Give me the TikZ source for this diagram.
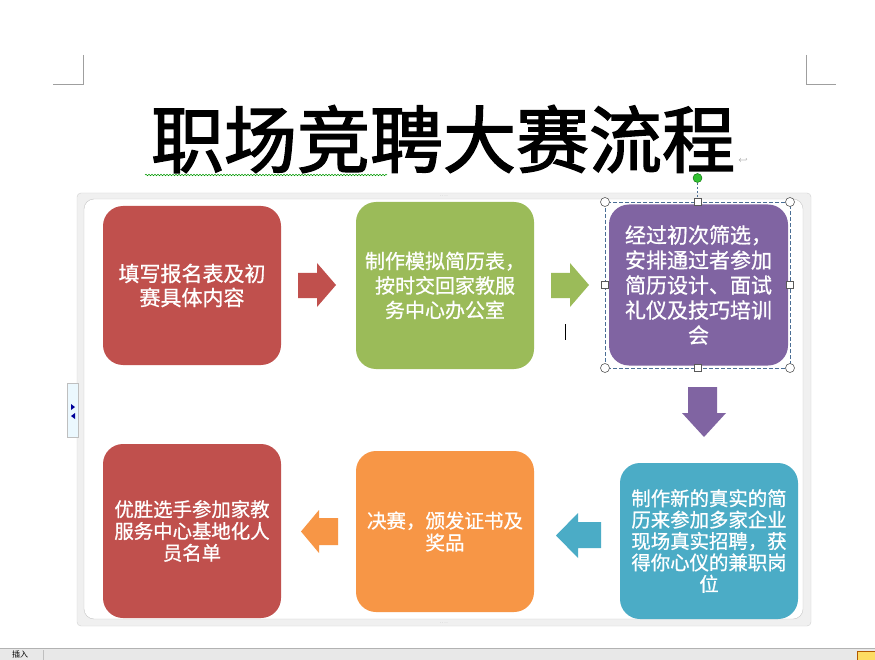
\documentclass[tikz,border=0pt]{standalone}
\usepackage{fontspec}
\newfontfamily\cjk[FakeBold=0.8]{Noto Sans CJK SC}
\newfontfamily\cjktitle[FakeBold=2]{Noto Sans CJK SC}
\newfontfamily\cjkplain{Noto Sans CJK SC}
\usetikzlibrary{decorations.pathmorphing}
\definecolor{cred}{HTML}{C0504D}
\definecolor{cgreen}{HTML}{9BBB59}
\definecolor{cpurple}{HTML}{8064A2}
\definecolor{cblue}{HTML}{4BACC6}
\definecolor{corange}{HTML}{F79646}
\definecolor{selblue}{HTML}{4A6E95}
\tikzset{
  stepbox/.style={rounded corners=20pt, inner sep=0pt, text=white, align=center},
  handle/.style={draw=gray!70!black, fill=white, line width=0.6pt},
  cropmark/.style={draw=gray!75, line width=1pt}
}
\begin{document}
\begin{tikzpicture}[x=1pt,y=-1pt]
\useasboundingbox (0,0) rectangle (875,660);
\fill[white] (0,0) rectangle (875,660);
% crop marks
\draw[cropmark] (83,55) -- (83,85) -- (53,85);
\draw[cropmark] (806,55) -- (806,85) -- (836,85);
% title
\node[font=\cjktitle\fontsize{73}{80}\selectfont, anchor=center] (title) at (443,139) {职场竞聘大赛流程};
\draw[green!60!black, line width=0.5pt, decorate, decoration={snake, amplitude=0.8pt, segment length=3pt}] (145,175) -- (387,175);
\node[font=\fontsize{8}{8}\selectfont, text=gray] (ret) at (743,161) {$\hookleftarrow$};
% smartart frame
\fill[gray!12, draw=gray!35, rounded corners=4pt] (77,193) rectangle (811,626);
\fill[white, draw=gray!45, rounded corners=10pt] (84,199) rectangle (803,619);
\node[font=\fontsize{5}{5}\selectfont, text=gray!70] (dots1) at (444,196) {....};
\node[font=\fontsize{5}{5}\selectfont, text=gray!70] (dots2) at (444,623) {....};
% left tab
\fill[cyan!8, draw=gray!50] (67,383) rectangle (78,437);
\fill[blue!60!black] (71,404) -- (75,407) -- (71,410) -- cycle;
\fill[blue!60!black] (75,413) -- (71,416) -- (75,419) -- cycle;
% boxes
\node[stepbox, fill=cred, minimum width=178pt, minimum height=159pt, font=\cjk\fontsize{21}{24}\selectfont] (b1) at (192,285.5) {填写报名表及初\\赛具体内容};
\node[stepbox, fill=cgreen, minimum width=178pt, minimum height=167pt, font=\cjk\fontsize{20}{24.5}\selectfont] (b2) at (445,285.5) {制作模拟简历表，\\按时交回家教服\\务中心办公室};
\node[stepbox, fill=cpurple, minimum width=179pt, minimum height=161pt, font=\cjk\fontsize{21}{25}\selectfont] (b3) at (698.5,285) {经过初次筛选，\\安排通过者参加\\简历设计、面试\\礼仪及技巧培训\\会};
\node[stepbox, fill=cblue, minimum width=178pt, minimum height=156pt, font=\cjk\fontsize{19.4}{21.4}\selectfont] (b4) at (709,541) {制作新的真实的简\\历来参加多家企业\\现场真实招聘，获\\得你心仪的兼职岗\\位};
\node[stepbox, fill=corange, minimum width=178pt, minimum height=161pt, font=\cjk\fontsize{19.5}{22}\selectfont] (b5) at (445,531.5) {决赛，颁发证书及\\奖品};
\node[stepbox, fill=cred, minimum width=178pt, minimum height=174pt, font=\cjk\fontsize{19.4}{21.8}\selectfont] (b6) at (192,531) {优胜选手参加家教\\服务中心基地化人\\员名单};
% block arrows
\fill[cred] (298,273) -- (317,273) -- (317,263) -- (336,285) -- (317,307) -- (317,298) -- (298,298) -- cycle;
\fill[cgreen] (551,273) -- (570,273) -- (570,263) -- (589,285) -- (570,307) -- (570,298) -- (551,298) -- cycle;
\fill[cpurple] (688,387) -- (717,387) -- (717,413) -- (726,413) -- (704,437) -- (682,413) -- (688,413) -- cycle;
\fill[cblue] (601,522) -- (578,522) -- (578,513) -- (556,535.5) -- (578,558) -- (578,548) -- (601,548) -- cycle;
\fill[corange] (338,518) -- (319,518) -- (319,510) -- (301,531.5) -- (319,553) -- (319,545) -- (338,545) -- cycle;
% selection of purple box
\draw[selblue, dash pattern=on 4pt off 2pt, line width=0.6pt] (605,202) rectangle (790,368);
\draw[selblue, dash pattern=on 2pt off 2pt, line width=0.6pt] (697.5,183) -- (697.5,202);
\fill[green!70!black!80, draw=green!40!black] (697.5,178) circle (4.5pt);
\foreach \p in {(605,202),(790,202),(605,368),(790,368)} \draw[handle] \p circle (4.5pt);
\foreach \p in {(697.5,202),(697.5,368),(605,285),(790,285)} \draw[handle] \p ++(-3.5,-3.5) rectangle ++(7,7);
% text cursor
\draw[black, line width=1pt] (565,324) -- (565,340);
% status bar
\fill[gray!18] (0,648) rectangle (875,660);
\draw[gray!60] (0,648.5) -- (875,648.5);
\draw[gray!50] (43,650) -- (43,660);
\node[font=\cjkplain\fontsize{8}{8}\selectfont, anchor=north west, inner sep=0pt] (ins) at (12,650.5) {插入};
\fill[yellow!60!orange!60, draw=orange!70!black] (857,651) rectangle (875,662);
\end{tikzpicture}
\end{document}
